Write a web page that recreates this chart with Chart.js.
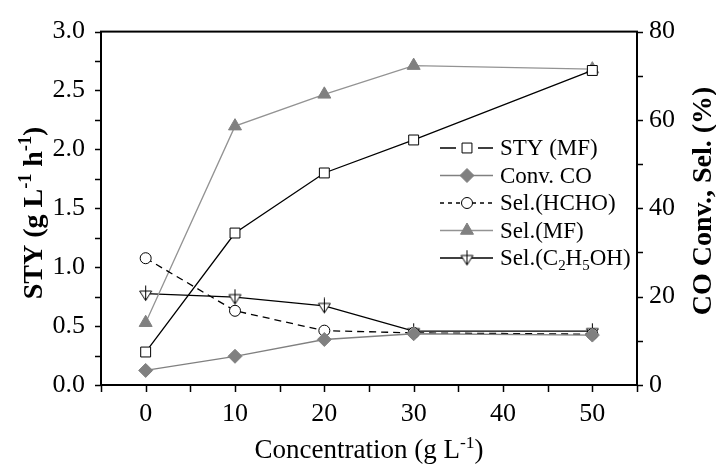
<!DOCTYPE html>
<html>
<head>
<meta charset="utf-8">
<script src="https://cdn.jsdelivr.net/npm/chart.js@4.4.1/dist/chart.umd.min.js"></script>
<style>
  html, body { margin: 0; padding: 0; background: #fff; }
  #wrap { width: 716px; height: 465px; }
</style>
</head>
<body>
<div id="wrap"><canvas id="chart" width="716" height="465"></canvas></div>
<script>
// catalyst concentration (g/L)
const concentration = [0, 10, 20, 30, 50];

// STY of methyl formate, left axis (g L-1 h-1)
const styMF = [0.28, 1.29, 1.80, 2.08, 2.67];
// conversion / selectivities, right axis (%)
const convCO = [3.3, 6.5, 10.3, 11.6, 11.3];
const selHCHO = [28.7, 16.8, 12.3, 11.8, 11.5];
const selMF = [14.1, 58.6, 65.8, 72.3, 71.5];
const selEtOH = [20.7, 19.9, 17.9, 12.2, 12.2];

const xTicks = [0, 10, 20, 30, 40, 50];
const styTicks = [0, 0.5, 1.0, 1.5, 2.0, 2.5, 3.0];
const pctTicks = [0, 20, 40, 60, 80];

// legend entries, with sub/superscript pieces
const legendLabels = [
  [{ t: 'STY (MF)' }],
  [{ t: 'Conv. CO' }],
  [{ t: 'Sel.(HCHO)' }],
  [{ t: 'Sel.(MF)' }],
  [{ t: 'Sel.(C' }, { t: '2', sub: true }, { t: 'H' }, { t: '5', sub: true }, { t: 'OH)' }]
];
const xTitle = [{ t: 'Concentration (g L' }, { t: '-1', sup: true }, { t: ')' }];
const yTitle = [{ t: 'STY (g L' }, { t: '-1', sup: true }, { t: ' h' }, { t: '-1', sup: true }, { t: ')' }];
const y2Title = [{ t: 'CO Conv., Sel. (%)' }];

const FONT = 'Liberation Serif, Times New Roman, serif';
const GRAY = '#808080';

const pts = vals => concentration.map((c, i) => ({ x: c, y: vals[i] }));

// open down-triangle with a vertical stroke through it
function crossedTriangle() {
  const c = document.createElement('canvas');
  c.width = 15; c.height = 17;
  const g = c.getContext('2d');
  g.lineWidth = 1;
  g.strokeStyle = '#000';
  g.fillStyle = '#fff';
  g.beginPath();
  g.moveTo(1.5, 6); g.lineTo(13.5, 6); g.lineTo(7.5, 15.5); g.closePath();
  g.fill();
  g.stroke();
  g.beginPath();
  g.moveTo(7.5, 0.5); g.lineTo(7.5, 15.5);
  g.stroke();
  return c;
}

function richWidth(ctx, segs, size, weight) {
  let w = 0;
  segs.forEach(s => {
    const fs = (s.sub || s.sup) ? size * 0.65 : size;
    ctx.font = weight + ' ' + fs + 'px ' + FONT;
    w += ctx.measureText(s.t).width;
  });
  return w;
}

// draws text pieces on an alphabetic baseline starting at x
function drawRich(ctx, segs, x, y, size, weight) {
  ctx.textBaseline = 'alphabetic';
  ctx.textAlign = 'left';
  segs.forEach(s => {
    const fs = (s.sub || s.sup) ? size * 0.65 : size;
    const dy = s.sub ? size * 0.22 : s.sup ? -size * 0.38 : 0;
    ctx.font = weight + ' ' + fs + 'px ' + FONT;
    ctx.fillText(s.t, x, y + dy);
    x += ctx.measureText(s.t).width;
  });
}

const framePlugin = {
  id: 'frame',
  afterDraw(chart) {
    const ctx = chart.ctx;
    const a = chart.chartArea;
    const sx = chart.scales.x, sy = chart.scales.y, sy2 = chart.scales.y2;
    ctx.save();
    ctx.strokeStyle = '#000';
    ctx.lineWidth = 2;
    ctx.strokeRect(a.left, a.top, a.right - a.left, a.bottom - a.top);

    ctx.lineWidth = 1.5;
    ctx.beginPath();
    for (let v = sx.min; v <= sx.max + 1e-9; v += 5) {
      const px = Math.round(sx.getPixelForValue(v)) + 0.5;
      ctx.moveTo(px, a.bottom); ctx.lineTo(px, a.bottom + 7);
    }
    for (let v = sy.min; v <= sy.max + 1e-9; v += 0.25) {
      const py = Math.round(sy.getPixelForValue(v)) + 0.5;
      ctx.moveTo(a.left, py); ctx.lineTo(a.left - 6, py);
    }
    for (let v = sy2.min; v <= sy2.max + 1e-9; v += 10) {
      const py = Math.round(sy2.getPixelForValue(v)) + 0.5;
      ctx.moveTo(a.right, py); ctx.lineTo(a.right + 6, py);
    }
    ctx.stroke();

    // axis titles
    ctx.fillStyle = '#000';
    const cx = (a.left + a.right) / 2;
    let w = richWidth(ctx, xTitle, 27, 'normal');
    drawRich(ctx, xTitle, cx - w / 2, 458, 27, 'normal');

    ctx.save();
    ctx.translate(42, 213);
    ctx.rotate(-Math.PI / 2);
    w = richWidth(ctx, yTitle, 28, 'bold');
    drawRich(ctx, yTitle, -w / 2, 0, 28, 'bold');
    ctx.restore();

    ctx.save();
    ctx.translate(711, 201);
    ctx.rotate(-Math.PI / 2);
    w = richWidth(ctx, y2Title, 28, 'bold');
    drawRich(ctx, y2Title, -w / 2, 0, 28, 'bold');
    ctx.restore();
    ctx.restore();
  }
};

const legendPlugin = {
  id: 'richLegend',
  afterDraw(chart) {
    const ctx = chart.ctx;
    chart.data.datasets.forEach((ds, i) => {
      const base = 155 + i * 27.5;
      const ly = base - 7;
      ctx.save();
      ctx.strokeStyle = ds.borderColor;
      ctx.lineWidth = ds.borderWidth;
      ctx.setLineDash(ds.borderDash ? [4, 4] : []);
      ctx.beginPath();
      if (ds.legendGap) {
        ctx.moveTo(440, ly); ctx.lineTo(456, ly);
        ctx.moveTo(478, ly); ctx.lineTo(493, ly);
      } else {
        ctx.moveTo(440, ly); ctx.lineTo(493, ly);
      }
      ctx.stroke();
      ctx.setLineDash([]);
      ctx.fillStyle = ds.pointBackgroundColor;
      ctx.strokeStyle = ds.pointBorderColor;
      ctx.lineWidth = 1;
      Chart.helpers.drawPoint(ctx, {
        pointStyle: ds.pointStyle, radius: ds.pointRadius, rotation: 0, borderWidth: 1
      }, 467, ly);
      ctx.fillStyle = '#000';
      drawRich(ctx, legendLabels[i], 500, base, 23, 'normal');
      ctx.restore();
    });
  }
};

const tickFont = { family: FONT, size: 26 };

new Chart(document.getElementById('chart'), {
  type: 'line',
  data: {
    datasets: [
      {
        label: 'STY (MF)', data: pts(styMF), yAxisID: 'y',
        borderColor: '#000', borderWidth: 1.3,
        pointStyle: 'rect', pointRadius: 7, pointBackgroundColor: '#fff',
        pointBorderColor: '#000', pointBorderWidth: 1, legendGap: true
      },
      {
        label: 'Conv. CO', data: pts(convCO), yAxisID: 'y2',
        borderColor: GRAY, borderWidth: 1.3,
        pointStyle: 'rectRot', pointRadius: 7, pointBackgroundColor: GRAY,
        pointBorderColor: GRAY, pointBorderWidth: 1
      },
      {
        label: 'Sel.(HCHO)', data: pts(selHCHO), yAxisID: 'y2',
        borderColor: '#000', borderWidth: 1.3, borderDash: [7, 5],
        pointStyle: 'circle', pointRadius: 5.5, pointBackgroundColor: '#fff',
        pointBorderColor: '#000', pointBorderWidth: 1
      },
      {
        label: 'Sel.(MF)', data: pts(selMF), yAxisID: 'y2',
        borderColor: '#939393', borderWidth: 1.3,
        pointStyle: 'triangle', pointRadius: 7.5, pointBackgroundColor: GRAY,
        pointBorderColor: GRAY, pointBorderWidth: 1
      },
      {
        label: 'Sel.(C2H5OH)', data: pts(selEtOH), yAxisID: 'y2',
        borderColor: '#000', borderWidth: 1.3,
        pointStyle: crossedTriangle(), pointRadius: 7, pointBackgroundColor: '#fff',
        pointBorderColor: '#000', pointBorderWidth: 1
      }
    ]
  },
  options: {
    responsive: false,
    animation: false,
    layout: { padding: { top: 17, left: 0, right: 0, bottom: 0 } },
    plugins: { legend: { display: false }, tooltip: { enabled: false } },
    elements: { line: { tension: 0 } },
    scales: {
      x: {
        type: 'linear', min: -5, max: 55,
        grid: { display: false, drawTicks: false }, border: { display: false },
        afterBuildTicks: s => { s.ticks = xTicks.map(v => ({ value: v })); },
        afterFit: s => { s.height = 80; },
        ticks: { font: tickFont, color: '#000', padding: 14, maxRotation: 0, autoSkip: false }
      },
      y: {
        position: 'left', min: 0, max: 3,
        grid: { display: false, drawTicks: false }, border: { display: false },
        afterBuildTicks: s => { s.ticks = styTicks.map(v => ({ value: v })); },
        afterFit: s => { s.width = 101; },
        ticks: { font: tickFont, color: '#000', padding: 16, callback: v => v.toFixed(1) }
      },
      y2: {
        position: 'right', min: 0, max: 80,
        grid: { display: false, drawTicks: false }, border: { display: false },
        afterBuildTicks: s => { s.ticks = pctTicks.map(v => ({ value: v })); },
        afterFit: s => { s.width = 79; },
        ticks: { font: tickFont, color: '#000', padding: 12 }
      }
    }
  },
  plugins: [framePlugin, legendPlugin]
});
</script>
</body>
</html>
